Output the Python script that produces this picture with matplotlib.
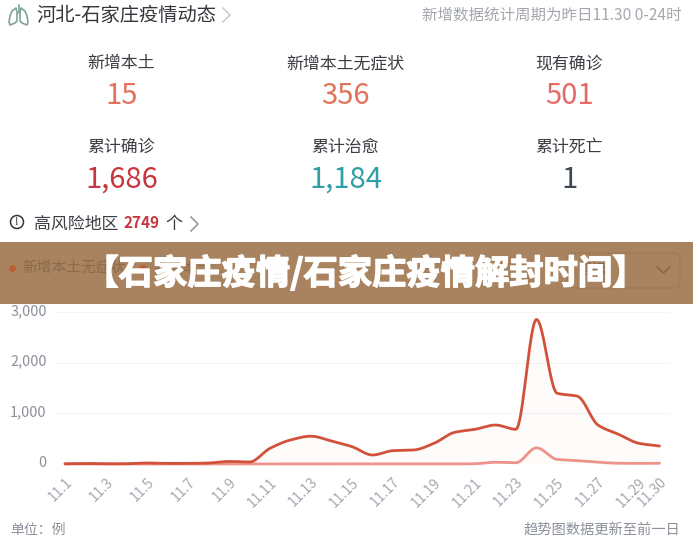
import numpy as np
import matplotlib
matplotlib.use("Agg")
import matplotlib.pyplot as plt
import matplotlib.patheffects as pe
from matplotlib.patches import Rectangle, FancyBboxPatch, Circle, Polygon
from matplotlib.transforms import ScaledTranslation

plt.rcParams["font.family"] = ["Noto Sans CJK SC", "DejaVu Sans"]

W, H = 693, 547

# ----------------------------------------------------------------------
# Data
# ----------------------------------------------------------------------
days = [f"11.{d}" for d in range(1, 31)]
asymptomatic = [5, 10, 3, 5, 20, 12, 12, 20, 50, 40,
                310, 475, 550, 455, 343, 178, 264, 277, 409, 626,
                686, 771, 686, 2860, 1400, 1340, 771, 587, 409, 356]
confirmed = [0, 0, 0, 0, 0, 0, 0, 0, 0, 0,
             0, 0, 0, 0, 0, 0, 0, 0, 0, 0,
             5, 35, 25, 320, 92, 66, 35, 15, 12, 15]
y_ticks = [0, 1000, 2000, 3000]
tick_days = ["11.1", "11.3", "11.5", "11.7", "11.9", "11.11", "11.13", "11.15",
             "11.17", "11.19", "11.21", "11.23", "11.25", "11.27", "11.29", "11.30"]

stat_labels = ["新增本土", "新增本土无症状", "现有确诊", "累计确诊", "累计治愈", "累计死亡"]
stat_values = ["15", "356", "501", "1,686", "1,184", "1"]
stat_colors = ["#E8705F", "#E0735A", "#E86A66", "#C8363F", "#2E9FA5", "#3D4A55"]


def smooth(x, y, n=16):
    # monotone cubic between the daily values, flat at local extrema
    x = np.asarray(x, dtype=float)
    y = np.asarray(y, dtype=float)
    d = np.diff(y)
    m = np.zeros_like(y)
    for i in range(1, len(y) - 1):
        if d[i - 1] * d[i] > 0:
            m[i] = 2 * d[i - 1] * d[i] / (d[i - 1] + d[i])
    m[0], m[-1] = d[0], d[-1]
    xs, ys = [], []
    for i in range(len(x) - 1):
        t = np.linspace(0, 1, n, endpoint=False)
        h00 = 2 * t**3 - 3 * t**2 + 1
        h10 = t**3 - 2 * t**2 + t
        h01 = -2 * t**3 + 3 * t**2
        h11 = t**3 - t**2
        xs.append(x[i] + t)
        ys.append(h00 * y[i] + h10 * m[i] + h01 * y[i + 1] + h11 * m[i + 1])
    xs.append(x[-1:])
    ys.append(y[-1:])
    return np.concatenate(xs), np.concatenate(ys)


fig = plt.figure(figsize=(W / 100, H / 100), dpi=100, facecolor="white")

# ----------------------------------------------------------------------
# Trend chart
# ----------------------------------------------------------------------
# x pixel = 65 + 20.5 * index, y pixel = 464 at 0 and 312.3 at 3000
left, right = 55, 670
top, bottom = 312.3, 464
ax = fig.add_axes([left / W, 1 - bottom / H, (right - left) / W, (bottom - top) / H])
ax.set_xlim((left - 65) / 20.5, (right - 65) / 20.5)
ax.set_ylim(0, 3000)
ax.patch.set_alpha(0)
for s in ax.spines.values():
    s.set_visible(False)

idx = np.arange(len(days))
ax.set_yticks(y_ticks)
ax.set_yticklabels([f"{v:,}" for v in y_ticks], fontsize=10.4, color="#8B9099")
ax.grid(axis="y", color="#F4F4F6", lw=0.8)
ax.set_axisbelow(True)
ax.tick_params(axis="y", length=0, pad=6)
up = ScaledTranslation(0, 2 / 72, fig.dpi_scale_trans)
for t in ax.get_yticklabels():
    t.set_transform(t.get_transform() + up)
ax.set_xticks([days.index(d) for d in tick_days])
ax.set_xticklabels(tick_days, fontsize=10, color="#A3A8B0", rotation=45,
                   ha="right", rotation_mode="anchor")
ax.tick_params(axis="x", length=0, pad=8)

xa, ya = smooth(idx, asymptomatic)
xc, yc = smooth(idx, confirmed)
ax.fill_between(xa, 0, ya, color="#D9523A", alpha=0.018, lw=0)
ax.plot(xc, yc, color="#EE9389", lw=2.0, clip_on=False, solid_capstyle="round")
ax.plot(xa, ya, color="#D2513A", lw=2.0, clip_on=False, solid_capstyle="round")

# ----------------------------------------------------------------------
# Everything else, in pixel coordinates
# ----------------------------------------------------------------------
ov = fig.add_axes([0, 0, 1, 1], zorder=5)
ov.set_xlim(0, W)
ov.set_ylim(H, 0)
ov.axis("off")
ov.patch.set_alpha(0)


def label(x, y, s, size, color, ha="center", **kw):
    return ov.text(x, y, s, fontsize=size, color=color, ha=ha, va="center", **kw)


# header
label(36, 15, "河北-石家庄疫情动态", 13.9, "#33363B", ha="left")
label(682, 15, "新增数据统计周期为昨日11.30 0-24时", 11.2, "#A4A8AE", ha="right")
ov.plot([223, 230, 223], [8, 15, 22], color="#C8CACE", lw=1.1)

# lung icon
ov.add_patch(Polygon([(16, 8), (12, 11), (10, 16), (9, 22), (10, 25), (15, 23), (17, 21), (17, 12)],
                     closed=True, fill=False, ec="#7FA39B", lw=1.2, joinstyle="round"))
ov.add_patch(Polygon([(21, 8), (25, 11), (27, 16), (28, 22), (27, 25), (22, 23), (20, 21), (20, 12)],
                     closed=True, fill=False, ec="#7FA39B", lw=1.2, joinstyle="round"))
ov.plot([18.5, 18.5], [5, 13], color="#7FA39B", lw=1.2)

# statistics grid
cols = [121, 345, 569]
for i, (name, val, col) in enumerate(zip(stat_labels, stat_values, stat_colors)):
    cx = cols[i % 3]
    row = i // 3
    label(cx, 63 + 84 * row, name, 12.2, "#3A3D42")
    label(cx + 0.5, 95.5 + 84 * row, val, 21, col)

# high risk row
ov.add_patch(Circle((17, 222), 6.5, fill=False, ec="#33363B", lw=1.1))
label(17, 222, "!", 8, "#33363B")
label(34, 223.5, "高风险地区", 12.2, "#3A3D42", ha="left")
label(123, 223.5, "2749", 11, "#C8363F", ha="left", fontweight="bold")
label(165, 223.5, "个", 12.2, "#3A3D42", ha="left")
ov.plot([191, 198, 191], [217, 224, 231], color="#8F9298", lw=1.1)

# footer
label(10, 530, "单位：例", 10, "#8B9099", ha="left")
label(680, 530, "趋势图数据更新至前一日", 10.3, "#8B9099", ha="right")

# banner with the legend showing through
ov.add_patch(Rectangle((0, 242), W, 62, fc="#A98360", ec="none"))
ov.add_patch(Circle((12.5, 268.5), 3.4, fc="#BE5B35", ec="none"))
label(22, 268.5, "新增本土无症状", 10.6, "#8A6A4B", ha="left")
ov.add_patch(Circle((143, 268.5), 3.4, fc="#BE5B35", ec="none"))
label(153, 268.5, "新增本土", 10.6, "#8A6A4B", ha="left")
ov.add_patch(FancyBboxPatch((567, 253), 113, 35, boxstyle="round,pad=0,rounding_size=6",
                            fc="none", ec="#A07A58", lw=0.9))
label(578, 270, "指标", 10.2, "#7F5F43", ha="left")
ov.plot([657, 663.5, 670], [267, 273, 267], color="#84664A", lw=1.1)
t = label(365, 273, "【石家庄疫情/石家庄疫情解封时间】", 24.7, "white", fontweight="bold")
t.set_path_effects([pe.withStroke(linewidth=1.0, foreground="white")])

fig.savefig("out.png", dpi=100, facecolor="white")
